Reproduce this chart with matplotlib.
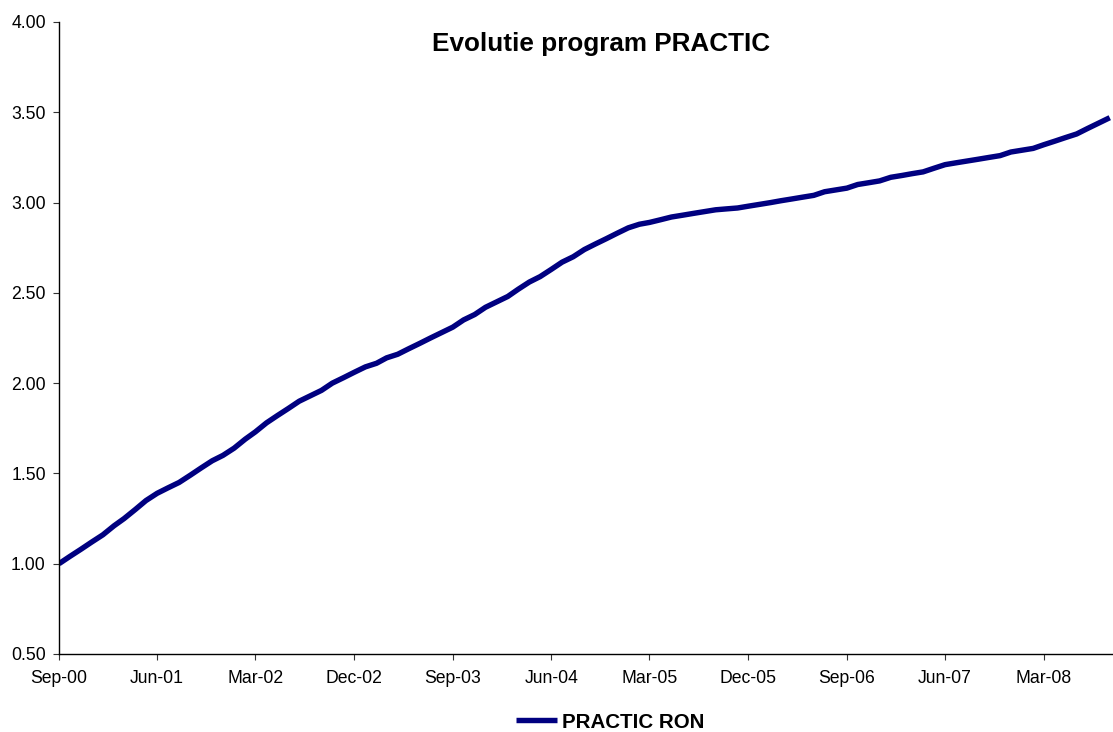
import matplotlib
matplotlib.use("Agg")
import matplotlib.pyplot as plt
import pandas as pd
import datetime as dt

plt.rcParams['font.family'] = ['Liberation Sans', 'DejaVu Sans']

# Monthly values, Sep-2000 .. Sep-2008
start_month = "2000-09-01"
values = [
    1.00, 1.04, 1.08, 1.12, 1.16, 1.21, 1.25, 1.30, 1.35, 1.39,
    1.42, 1.45, 1.49, 1.53, 1.57, 1.60, 1.64, 1.69, 1.73, 1.78,
    1.82, 1.86, 1.90, 1.93, 1.96, 2.00, 2.03, 2.06, 2.09, 2.11,
    2.14, 2.16, 2.19, 2.22, 2.25, 2.28, 2.31, 2.35, 2.38, 2.42,
    2.45, 2.48, 2.52, 2.56, 2.59, 2.63, 2.67, 2.70, 2.74, 2.77,
    2.80, 2.83, 2.86, 2.88, 2.89, 2.905, 2.92, 2.93, 2.94, 2.95,
    2.96, 2.965, 2.97, 2.98, 2.99, 3.00, 3.01, 3.02, 3.03, 3.04,
    3.06, 3.07, 3.08, 3.10, 3.11, 3.12, 3.14, 3.15, 3.16, 3.17,
    3.19, 3.21, 3.22, 3.23, 3.24, 3.25, 3.26, 3.28, 3.29, 3.30,
    3.32, 3.34, 3.36, 3.38, 3.41, 3.44, 3.47,
]
series_name = "PRACTIC RON"
title = "Evolutie program PRACTIC"
tick_dates = ["2000-09-01", "2001-06-01", "2002-03-01", "2002-12-01", "2003-09-01",
              "2004-06-01", "2005-03-01", "2005-12-01", "2006-09-01", "2007-06-01",
              "2008-03-01"]
tick_labels = ["Sep-00", "Jun-01", "Mar-02", "Dec-02", "Sep-03", "Jun-04",
               "Mar-05", "Dec-05", "Sep-06", "Jun-07", "Mar-08"]
y_ticks = [0.50, 1.00, 1.50, 2.00, 2.50, 3.00, 3.50, 4.00]

dates = pd.date_range(start_month, periods=len(values), freq="MS")

fig = plt.figure(figsize=(11.13, 7.32), dpi=100)
ax = fig.add_axes([59 / 1113, 1 - 654 / 732, (1113 - 59) / 1113, (654 - 22) / 732])

line, = ax.plot(dates, values, color="#000080", lw=3.9, solid_capstyle="butt",
                label=series_name)

ax.set_xlim(dt.datetime(2000, 9, 1), dt.datetime(2008, 9, 10))
ax.set_ylim(0.5, 4.0)
ax.set_yticks(y_ticks)
ax.set_yticklabels([f"{v:.2f}" for v in y_ticks])
ax.set_xticks([pd.Timestamp(d) for d in tick_dates])
ax.set_xticklabels(tick_labels)

for s in ["top", "right"]:
    ax.spines[s].set_visible(False)
for s in ["left", "bottom"]:
    ax.spines[s].set_linewidth(1.0)
    ax.spines[s].set_color("black")

ax.tick_params(axis="both", direction="out", length=4, width=0.8, color="#333333",
               labelsize=12.7, labelcolor="black")
ax.tick_params(axis="y", pad=5.5)
ax.tick_params(axis="x", pad=7.5)

fig.text(601 / 1113, 1 - 44 / 732, title, ha="center", va="center",
         fontsize=18.8, fontweight="bold")

leg = fig.legend(handles=[line], loc="center", bbox_to_anchor=(610 / 1113, 1 - 722 / 732),
                 frameon=False, prop={"weight": "bold", "size": 14.8},
                 handlelength=2.0, handletextpad=0.25, borderpad=0)

fig.savefig("out.png", dpi=100, facecolor="white")
